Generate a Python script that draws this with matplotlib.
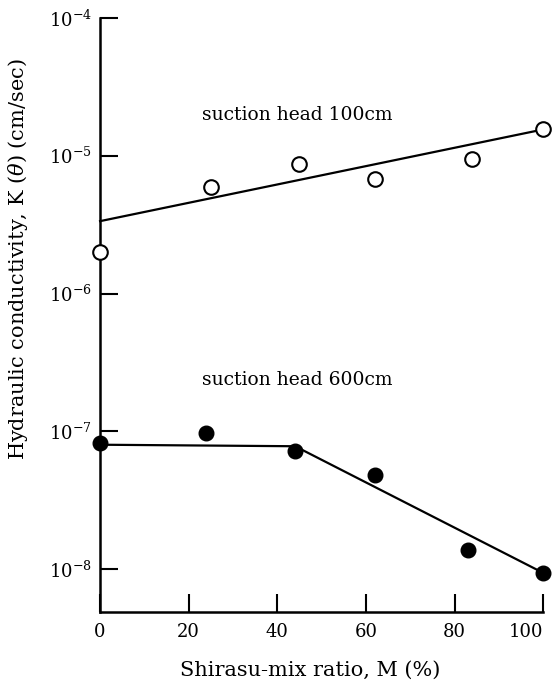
import math
import matplotlib
matplotlib.use("Agg")
import matplotlib.pyplot as plt
from matplotlib.ticker import FixedLocator, FuncFormatter, NullLocator

plt.rcParams['font.family'] = ['DejaVu Serif']
plt.rcParams['mathtext.fontset'] = 'dejavuserif'

# === Data ===
m_ratio_100 = [0, 25, 45, 62, 84, 100]
k_100 = [2.0e-6, 5.9e-6, 8.7e-6, 6.75e-6, 9.4e-6, 1.56e-5]
fit_x_100 = [0, 100]
fit_k_100 = [3.35e-6, 1.55e-5]

m_ratio_600 = [0, 24, 44, 62, 83, 100]
k_600 = [8.2e-8, 9.7e-8, 7.2e-8, 4.8e-8, 1.37e-8, 9.4e-9]
fit_x_600 = [0, 44, 100]
fit_k_600 = [8.0e-8, 7.8e-8, 9.4e-9]

x_ticks = [0, 20, 40, 60, 80, 100]
y_ticks = [1e-8, 1e-7, 1e-6, 1e-5, 1e-4]

# === Plot ===
fig = plt.figure(figsize=(5.56, 6.86), dpi=100)
ax = fig.add_axes([0.18, 0.108, 0.797, 0.866])

ax.plot(fit_x_100, fit_k_100, color='black', linewidth=1.6, clip_on=False)
ax.plot(fit_x_600, fit_k_600, color='black', linewidth=1.6, clip_on=False)
ax.plot(m_ratio_100, k_100, 'o', markersize=10.5, markerfacecolor='white',
        markeredgecolor='black', markeredgewidth=1.5, clip_on=False, zorder=5)
ax.plot(m_ratio_600, k_600, 'o', markersize=10.5, color='black', clip_on=False, zorder=5)

ax.set_yscale('log')
ax.set_xlim(0, 100)
ax.set_ylim(4.9e-9, 1e-4)

ax.spines['top'].set_visible(False)
ax.spines['right'].set_visible(False)
for s in ['left', 'bottom']:
    ax.spines[s].set_linewidth(1.8)

ax.xaxis.set_major_locator(FixedLocator(x_ticks))
ax.yaxis.set_major_locator(FixedLocator(y_ticks))
ax.yaxis.set_minor_locator(NullLocator())
ax.yaxis.set_major_formatter(FuncFormatter(lambda v, p: r'$10^{%d}$' % round(math.log10(v))))
ax.tick_params(axis='both', which='major', direction='in', length=13, width=1.5,
               labelsize=13, pad=8)
ax.tick_params(axis='y', pad=6)
for lab in ax.get_xticklabels():
    if lab.get_text() == '100':
        lab.set_horizontalalignment('right')
        lab.set_x(100)

ax.text(23, 1.98e-5, 'suction head 100cm', fontsize=13.5, va='center')
ax.text(23, 2.35e-7, 'suction head 600cm', fontsize=13.5, va='center')

fig.text(0.557, 0.023, 'Shirasu-mix ratio, M (%)', fontsize=15, ha='center', va='center')
fig.text(0.032, 0.622, r'Hydraulic conductivity, K ($\theta$) (cm/sec)', fontsize=15,
         rotation=90, ha='center', va='center')

fig.savefig('out.png', dpi=100)
